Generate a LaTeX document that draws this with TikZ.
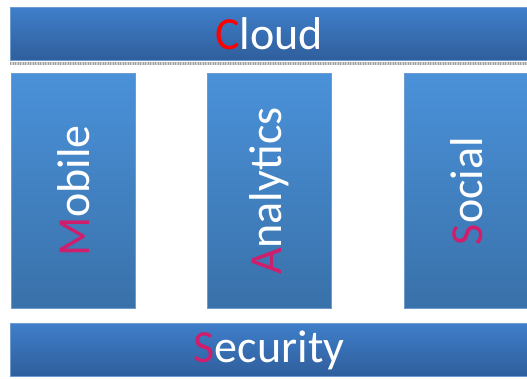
\documentclass[tikz,border=0pt]{standalone}
\usepackage{fontspec}
\setmainfont{Carlito}
\usepackage{tikz}
\usetikzlibrary{positioning}
\definecolor{barTop}{HTML}{3F7ECA}
\definecolor{barBottom}{HTML}{2F5E9B}
\definecolor{pillarTop}{HTML}{4A91D9}
\definecolor{pillarBottom}{HTML}{3971A9}
\definecolor{edgeBlue}{HTML}{6E9CCF}
\definecolor{firstRed}{HTML}{FF0000}
\definecolor{firstPink}{HTML}{CE1E6C}

\begin{document}
\begin{tikzpicture}[
  x=1pt,
  y=-1pt,
  every bar/.style={
    draw=edgeBlue,
    line width=1.2pt,
    rectangle,
    inner sep=0pt,
    minimum width=530pt,
    minimum height=53pt,
    top color=barTop,
    bottom color=barBottom,
    anchor=north west,
  },
  every pillar/.style={
    draw=edgeBlue,
    line width=1.2pt,
    rectangle,
    inner sep=0pt,
    minimum width=124pt,
    minimum height=235pt,
    top color=pillarTop,
    bottom color=pillarBottom,
    anchor=north west,
  },
  big label/.style={
    text=white,
    inner sep=0pt,
    font=\fontsize{46}{46}\selectfont,
  },
  side label/.style={
    big label,
    rotate=90,
  }
]
\useasboundingbox (0,0) rectangle (527,378);
% top and bottom bars
\node[every bar] (cloud) at (10,7) {};
\draw[gray!35,line width=3pt] (cloud.south west) ++(0,2.5) -- ++(527,0);
\draw[gray!75,line width=3pt,dash pattern=on 1pt off 1.5pt] (cloud.south west) ++(0,2.5) -- ++(527,0);
\node[every bar] (security) at (10,323) {};
\node[big label] (cloudText) at (cloud.center -| 269,0) {\textcolor{firstRed}{C}loud};
\node[big label] (securityText) at (security.center -| 269,0) {\textcolor{firstPink}{S}ecurity};
% three pillars
\foreach \n/\x in {mobile/11,analytics/207,social/404}
  \node[every pillar] (\n) at (\x,73) {};
\node[side label] (mobileText) at (mobile.center) {\textcolor{firstPink}{M}obile};
\node[side label] (analyticsText) at (analytics.center) {\textcolor{firstPink}{A}nalytics};
\node[side label] (socialText) at (social.center) {\textcolor{firstPink}{S}ocial};
\end{tikzpicture}
\end{document}
